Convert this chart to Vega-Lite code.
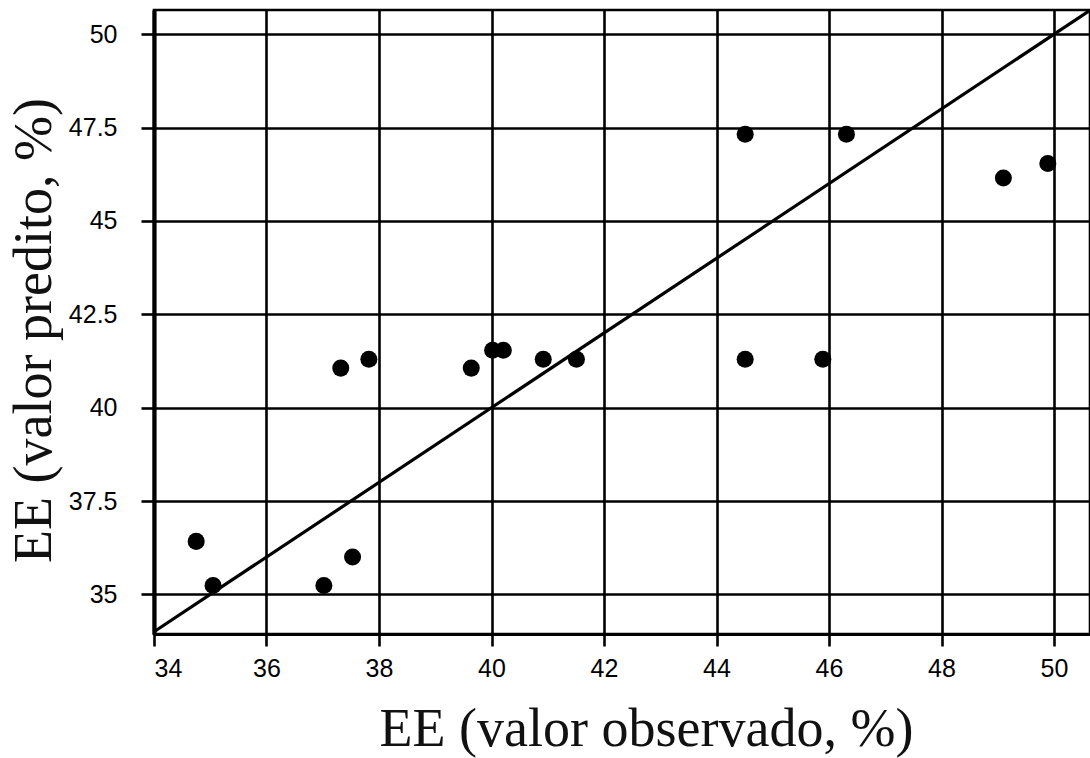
{
  "$schema": "https://vega.github.io/schema/vega-lite/v6.json",
  "width": 936,
  "height": 624,
  "autosize": {"type": "none"},
  "padding": {"left": 154, "top": 10, "right": 0, "bottom": 124},
  "background": "white",
  "config": {
    "view": {"stroke": "black", "strokeWidth": 2.6},
    "axis": {
      "gridColor": "black",
      "gridWidth": 2.6,
      "gridOpacity": 1,
      "domainColor": "black",
      "tickColor": "black",
      "tickWidth": 2.6,
      "labelFont": "Liberation Sans",
      "labelFontSize": 25,
      "labelColor": "black",
      "titleFont": "Liberation Serif",
      "titleFontSize": 54,
      "titleFontWeight": "normal",
      "titleColor": "#111111"
    }
  },
  "datasets": {
    "points": [
      {"observado": 34.75, "predito": 36.42},
      {"observado": 35.05, "predito": 35.24},
      {"observado": 37.02, "predito": 35.24},
      {"observado": 37.53, "predito": 36.0},
      {"observado": 37.32, "predito": 41.06},
      {"observado": 37.82, "predito": 41.3},
      {"observado": 39.64, "predito": 41.06},
      {"observado": 40.02, "predito": 41.54},
      {"observado": 40.21, "predito": 41.54},
      {"observado": 40.92, "predito": 41.3},
      {"observado": 41.51, "predito": 41.3},
      {"observado": 44.51, "predito": 41.3},
      {"observado": 45.89, "predito": 41.3},
      {"observado": 44.51, "predito": 47.32},
      {"observado": 46.31, "predito": 47.32},
      {"observado": 49.1, "predito": 46.15},
      {"observado": 49.89, "predito": 46.54}
    ],
    "line": [
      {"x1": 34, "y1": 34, "x2": 50.64, "y2": 50.64}
    ]
  },
  "layer": [
    {
      "data": {"name": "line"},
      "mark": {"type": "rule", "color": "black", "strokeWidth": 3.2},
      "encoding": {
        "x": {"field": "x1", "type": "quantitative", "scale": {"domain": [34, 50.64], "nice": false, "zero": false}},
        "y": {"field": "y1", "type": "quantitative", "scale": {"domain": [33.94, 50.65], "nice": false, "zero": false}},
        "x2": {"field": "x2"},
        "y2": {"field": "y2"}
      }
    },
    {
      "data": {"name": "points"},
      "mark": {"type": "circle", "color": "black", "opacity": 1, "size": 290},
      "encoding": {
        "x": {
          "field": "observado",
          "type": "quantitative",
          "scale": {"domain": [34, 50.64], "nice": false, "zero": false},
          "axis": {
            "title": "EE (valor observado, %)",
            "values": [34, 36, 38, 40, 42, 44, 46, 48, 50],
            "labelExpr": "'' + datum.value",
            "domainWidth": 3.2,
            "tickSize": 12,
            "labelPadding": 10,
            "titleX": 492,
            "titleY": 111,
            "titleBaseline": "alphabetic",
            "titleAnchor": "middle"
          }
        },
        "y": {
          "field": "predito",
          "type": "quantitative",
          "scale": {"domain": [33.94, 50.65], "nice": false, "zero": false},
          "axis": {
            "title": "EE (valor predito, %)",
            "values": [35, 37.5, 40, 42.5, 45, 47.5, 50],
            "labelExpr": "'' + datum.value",
            "domainWidth": 4.2,
            "tickSize": 13,
            "labelPadding": 24,
            "titleX": -104,
            "titleY": 320,
            "titleAngle": -90,
            "titleBaseline": "alphabetic",
            "titleAlign": "center",
            "titleAnchor": "middle"
          }
        }
      }
    }
  ]
}
